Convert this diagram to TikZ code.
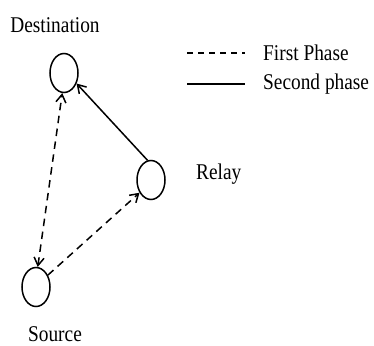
\documentclass[tikz,border=0pt]{standalone}
\usepackage{fontspec}
\setmainfont{Liberation Serif}
\usetikzlibrary{arrows.meta,shapes.geometric}
\tikzset{
  nodeell/.style={draw, ellipse, line width=1.5pt, minimum width=28pt, minimum height=39pt, inner sep=0pt},
  lbl/.style={font=\fontsize{22.5}{24}\selectfont, inner sep=0pt},
  tip/.style={},
  link/.style={line width=1.5pt, -{Straight Barb[length=8pt,width=10pt,line width=1.5pt]}},
  dlink/.style={link, dash pattern=on 7.5pt off 5.5pt},
}
\newcommand{\sq}[1]{\scalebox{0.86}[1]{#1}}
\begin{document}
\begin{tikzpicture}[x=1pt,y=-1pt]
\useasboundingbox (0,0) rectangle (374,345);
\node[nodeell] (dst) at (64,73) {};
\node[nodeell] (rly) at (151,180) {};
\node[nodeell] (src) at (36,287) {};
\node[lbl, anchor=base] (tdst) at (55,33) {\sq{Destination}};
\node[lbl, anchor=base west] (trly) at (196,179) {\sq{Relay}};
\node[lbl, anchor=base] (tsrc) at (55,341) {\sq{Source}};
\node[lbl, anchor=base west] (t1) at (263,60) {\sq{First Phase}};
\node[lbl, anchor=base west] (t2) at (263,89) {\sq{Second phase}};
\coordinate (l1a) at (187,53);
\coordinate (l1b) at (245,53);
\coordinate (l2a) at (187,84);
\coordinate (l2b) at (245,84);
\draw[line width=1.5pt, dash pattern=on 6pt off 5pt] (l1a) -- (l1b);
\draw[line width=1.5pt] (l2a) -- (l2b);
\draw[dlink, {Straight Barb[length=8pt,width=10pt,line width=1.5pt]}-{Straight Barb[length=8pt,width=10pt,line width=1.5pt]}] (src.85) -- (dst.265);
\draw[dlink] (src.45) -- (rly.228);
\draw[link] (rly.100) -- (dst.320);
\end{tikzpicture}
\end{document}
